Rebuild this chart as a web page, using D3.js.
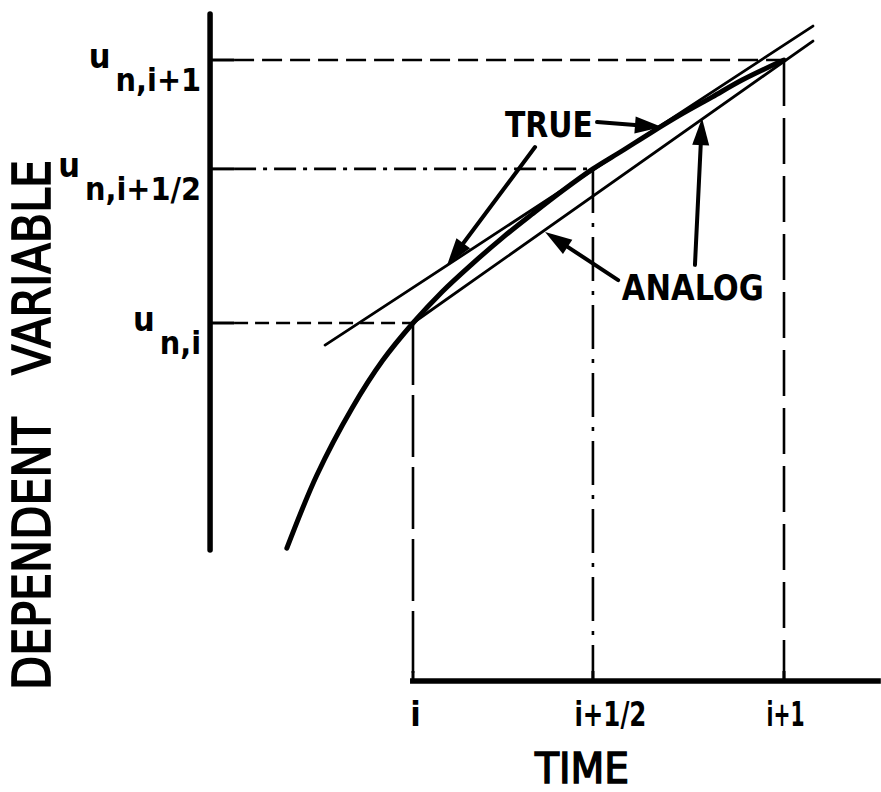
<!DOCTYPE html>
<html><head><meta charset="utf-8">
<script src="https://cdn.jsdelivr.net/npm/d3@7"></script>
<style>body{margin:0;background:#fff} svg{display:block}</style>
</head><body>
<svg id="chart" width="881" height="792"></svg>
<script>
// ---- data (time in step units, dependent variable normalised to u_{n,i}=0, u_{n,i+1}=1) ----
const timeTicks   = [0, 0.485, 1];
const timeLabels  = ["i", "i+1/2", "i+1"];
const uTicks      = [0, 0.586, 1];
const uSubLabels  = ["n,i", "n,i+1/2", "n,i+1"];

const trueCurveT = [-0.340, -0.259, -0.164, -0.081, 0, 0.078, 0.159, 0.240, 0.321, 0.402, 0.485, 0.563, 0.644, 0.725, 0.806, 0.887, 1];
const trueCurveU = [-0.856, -0.578, -0.323, -0.141, 0, 0.118, 0.224, 0.323, 0.414, 0.502, 0.586, 0.654, 0.726, 0.795, 0.859, 0.924, 1];

const tangentT = [-0.237, 1.078];
const tangentU = [-0.084, 1.129];
const analogT  = [0, 1.078];
const analogU  = [0, 1.072];

const annotations = ["TRUE", "ANALOG"];
const annotT = [0.248, 0.563];
const annotU = [0.707, 0.087];

// arrows: from (t,u) to (t,u)
const arrowFromT = [0.496, 0.329, 0.553, 0.760];
const arrowFromU = [0.764, 0.669, 0.163, 0.221];
const arrowToT   = [0.671, 0.092, 0.356, 0.779];
const arrowToU   = [0.745, 0.221, 0.346, 0.779];

const axisTimeExtent = [-0.008, 1.261];
const axisUExtent    = [-0.863, 1.175];
const yTitle = "DEPENDENT   VARIABLE";
const xTitle = "TIME";

// ---- scales ----
const x = d3.scaleLinear().domain([0, 1]).range([413, 784]);
const y = d3.scaleLinear().domain([0, 1]).range([323, 60]);
const yAxisT = -0.547;   // time position of the vertical axis
const xAxisU = -1.361;   // value position of the horizontal axis

const svg = d3.select("#chart");
const FONT = "'DejaVu Sans Condensed','DejaVu Sans',sans-serif";
const ink = "#000";

// ---- axes ----
svg.append("line")
  .attr("x1", x(yAxisT)).attr("x2", x(yAxisT))
  .attr("y1", y(axisUExtent[1])).attr("y2", y(axisUExtent[0]))
  .attr("stroke", ink).attr("stroke-width", 5.5).attr("stroke-linecap", "round");
svg.append("line")
  .attr("x1", x(axisTimeExtent[0])).attr("x2", x(axisTimeExtent[1]))
  .attr("y1", y(xAxisU)).attr("y2", y(xAxisU))
  .attr("stroke", ink).attr("stroke-width", 5.5);

// tick labels on time axis via d3 axis
const xAxisG = svg.append("g")
  .attr("transform", `translate(0,${y(xAxisU)})`)
  .call(d3.axisBottom(x).tickValues(timeTicks).tickFormat((d, i) => timeLabels[i]).tickSize(0).tickPadding(21));
xAxisG.select(".domain").remove();
xAxisG.selectAll("text")
  .attr("font-family", FONT).attr("font-weight", "bold").attr("font-size", 34)
  .attr("fill", ink).attr("dy", "0.71em");
xAxisG.selectAll(".tick").each(function(d, i) {
  const t = d3.select(this).select("text");
  if (i === 0) t.attr("x", 2);
  if (i === 1) t.attr("x", 17).attr("textLength", 72).attr("lengthAdjust", "spacingAndGlyphs");
  if (i === 2) t.attr("x", 1).attr("textLength", 38).attr("lengthAdjust", "spacingAndGlyphs");
});
// small upward ticks
svg.selectAll(".xtick").data(timeTicks).join("line")
  .attr("x1", d => x(d)).attr("x2", d => x(d))
  .attr("y1", y(xAxisU)).attr("y2", y(xAxisU) - 10)
  .attr("stroke", ink).attr("stroke-width", 3);

// ticks on vertical axis
svg.selectAll(".ytick").data(uTicks).join("line")
  .attr("x1", x(yAxisT)).attr("x2", x(yAxisT) + 24)
  .attr("y1", d => y(d)).attr("y2", d => y(d))
  .attr("stroke", ink).attr("stroke-width", 3);

// ---- guide lines ----
const hDash = ["14,7", "22,7,4,7", "20,8"];
uTicks.forEach((u, i) => {
  svg.append("line")
    .attr("x1", x(yAxisT) + 24).attr("x2", x(timeTicks[i]))
    .attr("y1", y(u)).attr("y2", y(u))
    .attr("stroke", ink).attr("stroke-width", 2.6).attr("stroke-dasharray", hDash[i]);
});
const vDash = ["62,10", "44,10,4,10", "46,12"];
timeTicks.forEach((t, i) => {
  svg.append("line")
    .attr("x1", x(t)).attr("x2", x(t))
    .attr("y1", y(uTicks[i])).attr("y2", y(xAxisU))
    .attr("stroke", ink).attr("stroke-width", 2.6).attr("stroke-dasharray", vDash[i]);
});

// ---- y tick labels (u with subscript) ----
uTicks.forEach((u, i) => {
  const sub = svg.append("text")
    .attr("x", x(yAxisT) - 9).attr("y", y(u) + 31)
    .attr("text-anchor", "end")
    .attr("font-family", FONT).attr("font-weight", "bold").attr("font-size", 32)
    .attr("fill", ink).text(uSubLabels[i]);
  const bb = sub.node().getBBox();
  svg.append("text")
    .attr("x", bb.x - 5).attr("y", y(u) + 8)
    .attr("text-anchor", "end")
    .attr("font-family", FONT).attr("font-weight", "bold").attr("font-size", 34)
    .attr("fill", ink).text("u");
});

// ---- straight lines ----
const lineGen = d3.line().x(d => x(d[0])).y(d => y(d[1]));
svg.append("path")
  .attr("d", lineGen(tangentT.map((t, i) => [t, tangentU[i]])))
  .attr("fill", "none").attr("stroke", ink).attr("stroke-width", 2.8).attr("stroke-linecap", "round");
svg.append("path")
  .attr("d", lineGen(analogT.map((t, i) => [t, analogU[i]])))
  .attr("fill", "none").attr("stroke", ink).attr("stroke-width", 2.8).attr("stroke-linecap", "round");

// ---- true curve ----
const curveGen = d3.line().x(d => x(d[0])).y(d => y(d[1])).curve(d3.curveCatmullRom.alpha(0.5));
svg.append("path")
  .attr("d", curveGen(trueCurveT.map((t, i) => [t, trueCurveU[i]])))
  .attr("fill", "none").attr("stroke", ink).attr("stroke-width", 5).attr("stroke-linecap", "round");

// ---- arrows ----
arrowFromT.forEach((ft, i) => {
  const x1 = x(ft), y1 = y(arrowFromU[i]), x2 = x(arrowToT[i]), y2 = y(arrowToU[i]);
  const ang = Math.atan2(y2 - y1, x2 - x1);
  const L = 27, W = 8.5;
  const bx = x2 - L * Math.cos(ang), by = y2 - L * Math.sin(ang);
  svg.append("line").attr("x1", x1).attr("y1", y1).attr("x2", bx).attr("y2", by)
    .attr("stroke", ink).attr("stroke-width", 4).attr("stroke-linecap", "round");
  const px = -Math.sin(ang) * W, py = Math.cos(ang) * W;
  svg.append("path")
    .attr("d", `M${x2},${y2}L${bx + px},${by + py}L${bx - px},${by - py}Z`)
    .attr("fill", ink);
});

// ---- annotation labels ----
const annotLen = [88, 142];
annotations.forEach((a, i) => {
  svg.append("text")
    .attr("x", x(annotT[i])).attr("y", y(annotU[i]))
    .attr("font-family", FONT).attr("font-weight", "bold").attr("font-size", 36)
    .attr("textLength", annotLen[i]).attr("lengthAdjust", "spacingAndGlyphs")
    .attr("fill", ink).text(a);
});

// ---- axis titles ----
svg.append("text")
  .attr("x", 582).attr("y", 783)
  .attr("text-anchor", "middle")
  .attr("font-family", FONT).attr("font-size", 42)
  .attr("stroke", ink).attr("stroke-width", 1.4)
  .attr("textLength", 94).attr("lengthAdjust", "spacingAndGlyphs")
  .attr("fill", ink).text(xTitle);

svg.append("text")
  .attr("transform", "translate(50,425) rotate(-90)")
  .attr("text-anchor", "middle")
  .attr("xml:space", "preserve").style("white-space", "pre")
  .attr("font-family", FONT).attr("font-size", 51)
  .attr("stroke", ink).attr("stroke-width", 1.6)
  .attr("textLength", 530).attr("lengthAdjust", "spacingAndGlyphs")
  .attr("fill", ink).text(yTitle);
</script>
</body></html>
